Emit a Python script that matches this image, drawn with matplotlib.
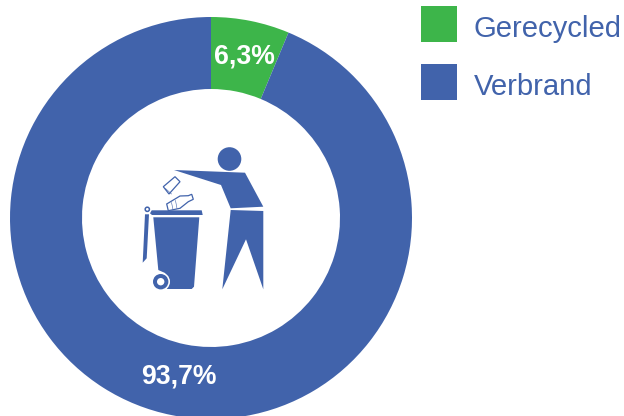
import matplotlib
matplotlib.use("Agg")
import matplotlib.pyplot as plt
from matplotlib.patches import Polygon, Circle, Rectangle
from matplotlib.legend_handler import HandlerPatch

categories = ["Gerecycled", "Verbrand"]
values = [6.3, 93.7]
colors = ["#3DB54A", "#4163AB"]
BLUE = "#4163AB"

plt.rcParams['font.family'] = ['Liberation Sans', 'DejaVu Sans']
fig = plt.figure(figsize=(6.24, 4.16), dpi=100, facecolor="white")
ax = fig.add_axes([0, 0, 1, 1])

def fmt(p):
    return f"{p:.1f}%".replace(".", ",")

wedges, _, autotexts = ax.pie(
    values, colors=colors, startangle=90, counterclock=False,
    center=(211, 416 - 218), radius=201,
    wedgeprops=dict(width=72, linewidth=0),
    autopct=fmt, pctdistance=0.82,
    textprops=dict(color="white", fontsize=19.2, fontweight="bold"),
    frame=True,
)
ax.set_xlim(0, 624)
ax.set_ylim(0, 416)
ax.set_aspect("equal")
ax.axis("off")
autotexts[0].set_x(autotexts[0].get_position()[0] + 1)
autotexts[1].set_y(autotexts[1].get_position()[1] + 3)

PX = 72 / 100  # points per pixel

def square(legend, orig_handle, xdescent, ydescent, width, height, fontsize):
    return Rectangle((0, -5 * PX), 36 * PX, 36 * PX)

leg = ax.legend(
    wedges, categories, loc="upper left", bbox_to_anchor=(421 / 624, 1 - 15 / 416),
    frameon=False, fontsize=21.1, handlelength=36 * PX / 21.1,
    handletextpad=0.58, labelspacing=1.036, borderpad=0, borderaxespad=0,
    handler_map={w: HandlerPatch(patch_func=square) for w in wedges},
)
for t in leg.get_texts():
    t.set_color(BLUE)

# Decorative pictogram (person dropping a bottle in a bin), in pixel coordinates
ic = fig.add_axes([0, 0, 1, 1], facecolor="none")
ic.set_xlim(0, 624)
ic.set_ylim(416, 0)
ic.axis("off")

solid = [
    [(174, 170), (245, 172.7), (263.3, 206.7), (230.7, 208.3), (221, 185)],
    [(230.7, 210), (263.3, 211), (263.3, 289.3), (246, 239.3), (222.3, 289.3)],
    [(150, 213.3), (151.7, 210.3), (201.7, 210.3), (202.7, 215), (152, 215)],
    [(153.3, 217.3), (199.3, 217.3), (194, 286.7), (191.7, 289), (166.7, 289),
     (168.5, 280), (165, 273), (158.3, 270)],
    [(145, 214.3), (149, 214.3), (146.7, 258.3), (142.7, 262.7)],
]
for pts in solid:
    ic.add_patch(Polygon(pts, closed=True, fc=BLUE, ec="none"))
ic.add_patch(Circle((229.5, 159), 11.8, fc=BLUE, ec="none"))
ic.add_patch(Circle((160.7, 281.7), 9.3, fc="white", ec="none"))
ic.add_patch(Circle((160.7, 281.7), 7.7, fc=BLUE, ec="none"))
ic.add_patch(Circle((160.7, 281.7), 3.7, fc="white", ec="none"))
ic.add_patch(Circle((147.3, 209.3), 2.1, fc="white", ec=BLUE, lw=1.1))
# bottle and cup
ic.add_patch(Polygon([(166.7, 204), (168.3, 210.7), (180, 208.3), (188.3, 201.7),
                      (193.3, 199.3), (191.7, 194.3), (188.3, 195.7), (180, 196)],
                     closed=True, fc="white", ec=BLUE, lw=0.9))
for a, b in [((171.5, 202.5), (173, 209.5)), ((175.5, 200.5), (177, 208.5))]:
    ic.plot(*zip(a, b), color=BLUE, lw=0.4)
ic.add_patch(Polygon([(163.3, 186.7), (175, 176.7), (180, 181.7), (169, 194)],
                     closed=True, fc="white", ec=BLUE, lw=0.9))
ic.plot([165.5, 171.5], [188.5, 194], color=BLUE, lw=0.4)
ic.set_xlim(0, 624)
ic.set_ylim(416, 0)

fig.savefig("out.png", dpi=100, facecolor="white")
